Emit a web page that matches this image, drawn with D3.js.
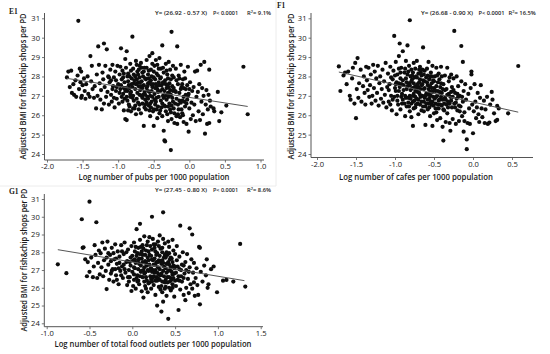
<!DOCTYPE html>
<html><head><meta charset="utf-8">
<script src="https://cdn.jsdelivr.net/npm/d3@7"></script>
<style>
html,body{margin:0;padding:0;background:#fff;}
svg{display:block;}
text{font-family:"Open Sans","Noto Sans",sans-serif;}
</style></head>
<body><svg id="chart" width="550" height="354"></svg>
<script>
// ---------------- DATA ----------------
const yTicks = [24, 25, 26, 27, 28, 29, 30, 31];
const e1XTicks = [-2.0, -1.5, -1.0, -0.5, 0.0, 0.5, 1.0];
const f1XTicks = [-2.0, -1.5, -1.0, -0.5, 0.0, 0.5];
const g1XTicks = [-1.0, -0.5, 0.0, 0.5, 1.0, 1.5];

const yTitle = "Adjusted BMI for fish&chip shops per PD";
const e1XTitle = "Log number of pubs per 1000 population";
const f1XTitle = "Log number of cafes per 1000 population";
const g1XTitle = "Log number of total food outlets per 1000 population";

const e1Fit = [26.92, -0.57];  const e1FitRange = [-1.72, 0.82];
const f1Fit = [26.68, -0.90];  const f1FitRange = [-1.72, 0.58];
const g1Fit = [27.45, -0.80];  const g1FitRange = [-0.87, 1.31];

const e1Stats = ["Y= (26.92 - 0.57 X)", "P< 0.0001", "9.1%"];
const f1Stats = ["Y= (26.68 - 0.90 X)", "P< 0.0001", "16.5%"];
const g1Stats = ["Y= (27.45 - 0.80 X)", "P< 0.0001", "8.6%"];

const e1Points = [
[-1.72,27.95],[-1.70,28.25],[-1.68,27.45],[-1.66,28.30],[-1.65,27.15],[-1.63,27.60],[-1.62,27.05],[-1.60,27.80],[-1.59,26.95],[-1.57,28.05],[-1.56,30.87],[-1.55,27.35],[-1.54,28.40],[-1.53,27.70],[-1.52,28.25],[-1.51,27.00],[-1.50,27.55],[-1.52,26.90],
[-1.48,27.90],[-1.47,27.25],[-1.46,26.85],[-1.45,27.60],[-1.43,28.00],[-1.42,27.10],[-1.40,26.95],[-1.39,29.05],[-1.38,27.75],[-1.37,28.55],[-1.36,27.35],[-1.34,26.90],[-1.33,27.50],[-1.31,26.35],[-1.30,28.10],[-1.29,27.00],[-1.28,29.55],[-1.27,28.60],[-1.26,27.65],[-1.25,26.80],[-1.24,27.30],[-1.23,26.30],[-1.22,28.20],[-1.21,27.85],[-1.20,29.70],[-1.20,26.60],
[-1.19,27.45],[-1.18,28.55],[-1.17,26.95],[-1.16,29.40],[-1.15,27.20],[-1.14,28.00],[-1.13,26.55],[-1.12,27.70],[-1.11,28.35],[-1.10,27.05],[-1.09,26.70],[-1.08,28.60],[-1.07,27.50],[-1.06,27.95],[-1.05,26.40],[-1.04,28.25],[-1.03,27.25],[-1.02,26.85],[-1.01,28.55],[-1.00,27.60],[-0.99,26.60],[-0.98,28.10],[-0.97,27.35],[-0.96,29.45],[-0.95,26.95],[-0.95,27.85],[-0.97,28.50],[-1.03,27.80],[-1.08,27.35],[-1.13,27.95],
[-0.94,28.30],[-0.93,27.10],[-0.92,26.25],[-0.91,27.70],[-0.90,28.90],[-0.90,25.80],[-0.89,27.40],[-0.88,25.75],[-0.88,29.30],[-0.87,26.75],[-0.86,28.15],[-0.85,27.55],[-0.84,26.45],[-0.83,28.65],[-0.82,27.20],[-0.81,27.90],[-0.80,30.05],[-0.80,26.90],[-0.79,28.40],[-0.78,27.65],[-0.77,26.35],[-0.76,27.35],[-0.75,28.80],[-0.75,26.05],[-0.74,27.85],[-0.73,28.25],[-0.72,26.65],[-0.71,27.50],[-0.70,28.55],[-0.70,27.05],
[-0.93,27.95],[-0.91,26.85],[-0.89,28.45],[-0.87,27.25],[-0.85,26.55],[-0.84,28.00],[-0.82,26.20],[-0.81,27.60],[-0.79,27.00],[-0.78,28.10],[-0.77,27.80],[-0.76,26.50],[-0.74,28.60],[-0.73,27.15],[-0.72,27.70],[-0.71,26.30],[-0.70,27.95],[-0.92,27.40],[-0.86,27.75],[-0.83,26.95],
[-0.69,27.30],[-0.68,28.70],[-0.68,26.10],[-0.67,27.75],[-0.66,26.60],[-0.66,28.20],[-0.65,27.05],[-0.64,25.45],[-0.64,27.55],[-0.63,28.45],[-0.62,26.80],[-0.62,27.90],[-0.61,26.30],[-0.60,27.40],[-0.60,28.85],[-0.59,26.95],[-0.58,27.65],[-0.58,28.10],[-0.57,26.50],[-0.56,27.20],[-0.56,29.05],[-0.55,25.95],[-0.54,27.80],[-0.54,28.35],[-0.53,26.70],[-0.52,27.45],[-0.52,29.20],[-0.51,26.20],[-0.50,25.45],[-0.50,27.95],[-0.49,27.10],[-0.49,28.55],[-0.48,26.55],[-0.47,27.60],[-0.47,28.85],[-0.46,26.90],[-0.46,28.15],[-0.45,27.35],[-0.45,25.85],
[-0.69,27.70],[-0.67,27.00],[-0.65,28.00],[-0.63,27.20],[-0.61,27.85],[-0.59,27.50],[-0.57,28.30],[-0.55,27.00],[-0.53,28.00],[-0.51,27.60],[-0.49,26.80],[-0.48,27.85],[-0.46,27.50],[-0.66,27.40],[-0.62,26.55],[-0.58,26.85],[-0.54,26.40],[-0.50,26.30],[-0.60,28.45],[-0.52,28.65],[-0.56,27.70],
[-0.44,28.05],[-0.44,26.45],[-0.43,27.70],[-0.42,28.95],[-0.42,26.10],[-0.41,27.25],[-0.40,28.40],[-0.40,26.75],[-0.39,27.55],[-0.38,29.60],[-0.38,25.95],[-0.37,27.00],[-0.36,28.20],[-0.36,25.20],[-0.35,26.50],[-0.35,24.70],[-0.34,27.80],[-0.34,24.65],[-0.33,26.20],[-0.33,28.65],[-0.32,27.40],[-0.31,26.05],[-0.31,28.10],[-0.30,27.15],[-0.30,25.70],[-0.29,28.75],[-0.28,26.60],[-0.28,27.65],[-0.27,26.30],[-0.27,28.35],[-0.26,27.05],[-0.26,24.20],[-0.25,30.30],[-0.25,25.80],[-0.24,27.50],[-0.23,26.70],[-0.23,28.55],[-0.22,27.95],[-0.21,26.10],[-0.20,27.25],[-0.21,25.60],
[-0.43,26.95],[-0.41,27.90],[-0.39,26.40],[-0.37,28.45],[-0.35,27.25],[-0.33,27.60],[-0.32,26.80],[-0.30,27.90],[-0.29,26.95],[-0.27,27.30],[-0.25,26.50],[-0.24,28.05],[-0.22,26.35],[-0.41,26.25],[-0.36,26.90],[-0.31,27.55],[-0.26,27.85],[-0.38,27.35],
[-0.19,28.40],[-0.18,26.85],[-0.17,29.55],[-0.17,25.55],[-0.16,27.60],[-0.15,26.30],[-0.15,28.05],[-0.14,27.15],[-0.13,25.90],[-0.12,28.60],[-0.12,26.65],[-0.11,27.45],[-0.10,26.10],[-0.09,27.85],[-0.08,25.65],[-0.08,26.95],[-0.07,28.25],[-0.06,26.45],[-0.05,27.35],[-0.04,25.55],[-0.03,26.80],[-0.02,28.50],[-0.01,25.15],[-0.01,27.10],[0.00,26.35],[0.01,27.70],[0.02,25.80],[0.03,26.65],[0.04,27.25],[0.05,26.00],
[-0.19,27.20],[-0.16,26.55],[-0.14,27.90],[-0.11,26.30],[-0.10,27.60],[-0.07,26.70],[-0.05,27.05],[-0.03,27.55],[-0.18,25.95],[-0.09,26.00],
[0.06,27.45],[0.07,26.55],[0.08,28.25],[0.09,25.70],[0.10,26.95],[0.11,28.30],[0.12,27.20],[0.13,26.20],[0.14,27.60],[0.15,25.75],[0.16,28.60],[0.17,26.70],[0.18,27.40],[0.19,26.05],[0.20,27.00],[0.21,28.75],[0.22,25.05],[0.23,26.55],[0.24,27.30],[0.25,25.55],[0.26,26.30],[0.27,27.05],[0.28,28.35],[0.28,25.60],[0.29,26.75],[0.30,26.45],[0.34,26.35],[0.35,26.20],
[0.40,27.20],[0.42,25.70],[0.45,26.15],[0.52,26.50],[0.76,28.50],[0.82,26.05],
[-0.98,27.15],[-0.96,27.55],[-0.94,26.70],[-0.92,28.15],[-0.90,27.25],[-0.88,26.95],[-0.86,26.25],[-0.84,27.40],[-0.82,28.30],[-0.80,27.45],[-0.78,26.75],[-0.76,28.00],[-0.74,26.85],[-0.72,28.10],[-0.70,26.55],[-0.68,27.50],[-0.66,26.90],[-0.64,28.25],[-0.62,27.05],[-0.60,26.65],[-0.58,27.25],[-0.56,26.25],[-0.54,27.60],[-0.52,26.95],[-0.50,28.25],[-0.48,27.40],[-0.46,26.30],[-0.44,27.20],[-0.42,27.55],[-0.40,27.95],[-0.38,26.60],[-0.36,27.65],[-0.34,26.45],[-0.32,28.30],[-0.30,26.45],[-0.28,27.10],[-0.26,26.15],[-0.24,26.90],[-0.22,27.40],[-0.20,26.60],[-0.18,27.80],[-0.16,26.05],[-0.14,26.75],[-0.12,27.35],[-0.10,26.75],[-0.08,27.40],[-0.06,27.90],[-0.04,26.60],[-0.02,27.00],[0.00,27.35],[-0.67,28.45],[-0.63,26.40],[-0.57,27.90],[-0.53,27.25],[-0.47,26.70],[-0.43,28.40],[-0.37,27.70],[-0.33,27.00],[-0.29,27.45],[-0.23,27.25],[-0.87,28.00],[-0.83,27.10],[-0.79,26.35],[-0.75,27.60],[-0.71,28.35],[-1.02,27.45],[-1.06,26.90],[-1.10,27.80],[-0.55,26.60],[-0.45,28.60]
];

const f1Points = [
[-1.72,28.52],[-1.70,27.25],[-1.66,28.05],[-1.64,28.20],[-1.62,27.60],[-1.60,28.25],[-1.58,27.00],[-1.57,26.80],[-1.55,27.90],[-1.54,28.45],[-1.52,26.60],[-1.51,28.70],[-1.50,25.85],[-1.49,27.35],[-1.48,28.95],[-1.47,26.90],[-1.46,27.65],[-1.44,28.35],[-1.43,26.70],[-1.41,27.50],[-1.40,28.00],
[-1.39,27.15],[-1.38,26.55],[-1.37,28.50],[-1.36,27.80],[-1.35,27.30],[-1.34,28.45],[-1.33,26.95],[-1.32,27.55],[-1.31,28.10],[-1.30,26.60],[-1.29,27.00],[-1.28,28.60],[-1.27,27.40],[-1.26,28.25],[-1.25,26.75],[-1.24,27.90],[-1.23,27.15],[-1.22,28.55],[-1.21,26.50],[-1.20,27.65],[-1.19,28.00],[-1.18,26.85],[-1.17,27.35],[-1.16,28.35],[-1.15,26.65],[-1.14,27.75],[-1.13,27.05],[-1.12,28.70],[-1.11,26.40],[-1.10,27.45],
[-1.09,28.15],[-1.08,26.70],[-1.07,27.60],[-1.06,28.50],[-1.05,27.00],[-1.04,26.25],[-1.03,27.85],[-1.02,28.30],[-1.01,30.09],[-1.01,26.95],[-1.00,27.40],[-0.99,28.75],[-0.98,26.05],[-0.98,27.70],[-0.97,28.10],[-0.96,26.55],[-0.95,27.25],[-0.95,29.05],[-0.94,29.70],[-0.93,27.90],[-0.93,26.30],[-0.92,28.45],[-0.91,27.10],[-0.90,29.30],[-0.90,26.80],[-0.89,27.55],[-0.88,28.20],[-0.87,25.95],[-0.87,27.00],[-0.86,28.80],[-0.85,27.35],[-0.85,26.45],
[-1.08,27.30],[-1.05,27.95],[-1.03,26.80],[-1.00,28.05],[-0.97,27.00],[-0.95,28.40],[-0.92,26.95],[-0.90,27.80],[-0.88,26.60],[-0.86,27.90],[-1.06,26.55],[-0.99,27.60],[-0.94,27.45],
[-0.84,28.10],[-0.84,29.60],[-0.83,26.90],[-0.82,27.65],[-0.82,28.55],[-0.81,30.90],[-0.81,26.20],[-0.80,27.30],[-0.79,28.35],[-0.79,25.90],[-0.78,27.85],[-0.77,25.45],[-0.77,26.70],[-0.76,28.70],[-0.76,27.10],[-0.75,27.95],[-0.74,26.40],[-0.74,28.40],[-0.73,27.50],[-0.72,26.85],[-0.72,28.80],[-0.71,27.20],[-0.70,28.15],[-0.70,26.05],[-0.69,27.70],[-0.68,26.55],[-0.68,28.50],[-0.67,27.35],[-0.66,26.25],[-0.66,28.05],[-0.65,27.00],[-0.64,29.50],[-0.64,27.80],[-0.63,26.70],[-0.62,28.30],[-0.62,27.40],[-0.61,25.50],[-0.61,26.45],[-0.60,27.95],[-0.60,27.10],
[-0.84,27.50],[-0.83,28.25],[-0.81,27.00],[-0.80,28.00],[-0.78,27.40],[-0.77,28.20],[-0.75,26.75],[-0.73,28.00],[-0.71,26.60],[-0.70,27.45],[-0.69,28.35],[-0.67,26.95],[-0.65,27.60],[-0.63,28.10],[-0.62,26.90],[-0.79,26.60],[-0.74,27.25],[-0.68,27.05],[-0.82,26.45],[-0.76,27.65],
[-0.59,28.40],[-0.58,26.30],[-0.58,27.55],[-0.57,28.75],[-0.56,26.85],[-0.56,27.85],[-0.55,25.95],[-0.55,27.20],[-0.54,28.20],[-0.53,26.55],[-0.53,27.65],[-0.52,25.45],[-0.52,28.55],[-0.51,26.95],[-0.50,27.40],[-0.50,26.10],[-0.49,28.00],[-0.48,26.60],[-0.48,27.25],[-0.47,28.45],[-0.46,25.75],[-0.46,27.00],[-0.45,27.70],[-0.44,26.35],[-0.44,28.15],[-0.43,26.80],[-0.42,27.45],[-0.42,25.85],[-0.41,28.50],[-0.40,26.50],[-0.40,27.15],[-0.39,25.40],[-0.38,24.69],[-0.38,27.60],[-0.37,26.25],[-0.36,28.05],[-0.36,26.90],[-0.35,25.65],
[-0.59,27.10],[-0.57,26.60],[-0.54,27.00],[-0.51,27.80],[-0.49,26.85],[-0.47,27.50],[-0.45,26.55],[-0.43,27.85],[-0.41,26.95],[-0.39,27.35],[-0.37,26.60],[-0.57,27.35],[-0.52,26.70],[-0.46,28.05],[-0.40,28.00],[-0.55,28.00],
[-0.34,27.35],[-0.33,26.10],[-0.33,28.45],[-0.32,26.70],[-0.31,27.75],[-0.30,25.60],[-0.29,25.20],[-0.29,26.95],[-0.28,28.10],[-0.27,26.40],[-0.27,27.45],[-0.26,25.80],[-0.25,27.90],[-0.24,30.35],[-0.24,26.60],[-0.23,27.15],[-0.22,25.55],[-0.21,26.85],[-0.21,28.00],[-0.20,26.25],[-0.19,27.50],[-0.18,25.70],[-0.17,27.00],[-0.16,26.45],[-0.15,29.57],[-0.15,27.75],[-0.14,25.95],[-0.13,28.75],[-0.13,26.70],[-0.12,25.15],[-0.12,27.25],[-0.11,26.15],[-0.10,27.60],
[-0.34,26.55],[-0.31,27.10],[-0.28,26.75],[-0.25,27.30],[-0.22,26.65],[-0.19,26.95],[-0.17,26.20],[-0.11,25.70],[-0.30,27.95],
[-0.09,26.80],[-0.08,24.75],[-0.08,24.25],[-0.07,25.60],[-0.06,27.10],[-0.05,26.35],[-0.04,25.55],[-0.03,27.40],[-0.02,28.25],[-0.01,26.55],[0.00,25.07],[0.01,26.20],[0.02,27.60],[0.03,26.70],[0.04,25.85],[0.05,26.40],[0.06,27.15],[0.08,25.65],[0.09,26.90],[0.10,27.55],[0.11,26.35],[0.12,25.90],[0.14,26.75],[0.15,25.60],[0.16,26.30],[0.18,26.95],[0.19,25.55],[0.21,25.62],[0.22,26.55],[0.24,27.20],[0.25,26.80],[0.27,26.10],[0.29,25.70],[0.31,26.48],[0.31,25.76],[0.33,26.35],[0.45,26.10],[0.58,28.54],[-0.02,28.10],[0.07,26.05],
[-0.99,27.25],[-0.97,26.75],[-0.95,27.65],[-0.93,28.20],[-0.91,26.60],[-0.89,27.30],[-0.87,28.40],[-0.85,27.70],[-0.83,26.65],[-0.81,27.55],[-0.80,26.85],[-0.78,28.05],[-0.77,27.00],[-0.75,27.45],[-0.74,26.95],[-0.73,26.55],[-0.72,27.95],[-0.71,27.60],[-0.70,26.80],[-0.69,27.15],[-0.68,27.85],[-0.67,28.20],[-0.66,26.70],[-0.65,28.35],[-0.64,26.45],[-0.63,27.35],[-0.62,27.75],[-0.61,27.00],[-0.60,26.60],[-0.59,27.70],[-0.58,28.05],[-0.57,27.05],[-0.56,26.40],[-0.55,27.50],[-0.54,26.70],[-0.53,28.00],[-0.52,27.20],[-0.51,26.50],[-0.50,27.75],[-0.49,27.30],[-0.48,26.35],[-0.47,26.95],[-0.45,27.25],[-0.44,26.75],[-0.43,27.20],[-0.42,26.55],[-0.41,27.65],[-0.39,26.80],[-0.38,26.30],[-0.36,27.30],[-0.35,26.80],[-0.33,27.05],[-0.32,26.40],[-0.30,26.60],[-0.28,27.20],[-0.26,26.95],[-0.23,26.40],[-0.20,27.10],[-0.18,26.50],[-0.14,26.95],[-0.79,27.75],[-0.76,26.35],[-0.72,27.35],[-0.66,27.55],[-0.63,26.20],[-0.58,26.80],[-0.53,27.40],[-0.47,26.15],[-0.86,26.90],[-0.92,27.60]
];

const g1Points = [
[-0.87,27.32],[-0.77,26.82],[-0.59,29.86],[-0.58,28.25],[-0.57,28.28],[-0.55,27.60],[-0.53,26.65],[-0.52,27.45],[-0.50,30.85],[-0.50,26.90],[-0.48,27.70],[-0.46,26.60],[-0.45,27.20],[-0.44,28.40],[-0.43,27.85],[-0.42,29.69],[-0.41,26.55],[-0.40,27.40],[-0.39,28.10],[-0.38,26.75],[-0.37,27.95],[-0.36,27.15],[-0.35,28.55],[-0.34,26.65],[-0.33,27.55],[-0.32,28.20],[-0.31,26.95],[-0.30,25.93],[-0.30,27.70],
[-0.29,28.60],[-0.28,27.30],[-0.27,26.45],[-0.26,27.85],[-0.25,26.80],[-0.24,28.25],[-0.23,27.05],[-0.22,26.35],[-0.21,27.60],[-0.20,28.45],[-0.19,26.70],[-0.18,27.35],[-0.17,28.05],[-0.16,26.20],[-0.15,27.75],[-0.14,26.95],[-0.13,28.40],[-0.12,27.20],[-0.11,26.55],[-0.10,27.90],[-0.09,28.55],[-0.08,26.85],[-0.07,27.45],[-0.06,26.15],[-0.05,28.15],[-0.04,27.00],[-0.03,26.60],[-0.02,27.70],[-0.01,25.82],[-0.01,28.35],[0.00,26.90],
[-0.28,27.95],[-0.25,27.50],[-0.22,27.95],[-0.19,27.65],[-0.16,27.10],[-0.13,26.70],[-0.10,27.30],[-0.07,28.00],[-0.04,26.35],[-0.02,27.25],[-0.24,26.95],[-0.18,26.45],[-0.12,28.05],[-0.06,27.50],
[0.01,27.55],[0.02,26.45],[0.02,28.55],[0.03,27.10],[0.04,25.95],[0.05,27.80],[0.05,29.30],[0.06,26.70],[0.07,28.25],[0.08,27.35],[0.08,26.20],[0.09,29.60],[0.09,28.70],[0.10,26.90],[0.11,27.65],[0.11,25.80],[0.12,28.40],[0.13,25.45],[0.13,27.00],[0.14,26.35],[0.14,28.90],[0.15,27.50],[0.16,26.60],[0.16,28.10],[0.17,27.25],[0.18,25.75],[0.18,28.60],[0.19,26.95],[0.20,27.85],[0.20,26.30],[0.21,28.35],[0.22,27.10],[0.22,25.95],[0.23,30.00],[0.23,27.60],[0.24,26.55],[0.24,28.75],[0.25,27.30],
[0.01,26.10],[0.03,28.05],[0.04,27.40],[0.06,27.95],[0.07,26.40],[0.10,27.25],[0.12,26.60],[0.12,27.85],[0.15,26.10],[0.17,28.40],[0.19,27.55],[0.21,26.65],[0.23,28.15],[0.25,26.15],[0.25,28.45],[0.02,27.15],[0.08,27.65],[0.14,27.15],[0.18,27.00],[0.22,27.80],[0.10,28.30],[0.16,25.95],[0.06,26.35],[0.20,28.85],[0.24,27.00],
[0.26,26.85],[0.27,28.05],[0.27,25.60],[0.28,27.45],[0.29,25.00],[0.29,26.40],[0.30,28.60],[0.30,27.15],[0.31,26.05],[0.32,27.80],[0.32,28.95],[0.33,26.70],[0.34,24.66],[0.34,27.35],[0.35,25.75],[0.35,28.25],[0.36,30.25],[0.36,25.22],[0.36,26.95],[0.37,27.70],[0.38,26.30],[0.38,28.50],[0.39,27.10],[0.40,25.55],[0.40,28.00],[0.41,26.60],[0.42,24.25],[0.42,27.45],[0.43,26.00],[0.43,28.30],[0.44,27.00],[0.45,25.85],[0.45,26.55],[0.46,27.65],[0.47,28.70],[0.47,26.20],[0.48,27.25],[0.49,25.50],[0.49,26.80],[0.50,27.90],
[0.26,27.65],[0.28,26.60],[0.30,26.55],[0.31,27.55],[0.33,28.20],[0.34,26.10],[0.37,27.20],[0.39,26.45],[0.41,27.85],[0.43,27.30],[0.44,26.35],[0.46,26.90],[0.48,28.10],[0.50,26.40],[0.29,27.95],[0.35,27.55],[0.40,26.85],[0.45,27.70],[0.32,26.45],[0.38,25.95],[0.27,27.00],[0.47,27.45],[0.42,28.60],[0.36,28.75],[0.49,27.10],
[0.51,26.10],[0.52,28.35],[0.53,27.20],[0.54,24.75],[0.54,26.65],[0.55,27.75],[0.56,29.50],[0.56,25.90],[0.57,27.00],[0.58,26.35],[0.59,28.00],[0.60,25.60],[0.61,26.80],[0.62,25.30],[0.62,27.45],[0.63,26.00],[0.64,27.90],[0.65,26.50],[0.66,25.70],[0.67,29.35],[0.67,27.15],[0.68,26.20],[0.69,27.60],[0.70,29.00],[0.70,25.95],[0.71,26.85],[0.72,27.40],[0.73,25.55],[0.74,26.55],[0.75,27.10],[0.76,26.15],[0.77,25.60],[0.78,28.30],[0.79,28.25],[0.79,25.07],[0.80,26.90],
[0.52,27.55],[0.55,26.40],[0.58,27.30],[0.60,26.55],[0.63,27.00],[0.66,26.90],[0.72,26.30],
[0.82,26.35],[0.84,27.25],[0.86,26.70],[0.87,27.60],[0.88,26.00],[0.89,26.20],[0.92,27.05],[0.95,27.20],[0.99,25.75],[1.06,26.40],[1.10,26.44],[1.18,26.35],[1.26,28.47],[1.32,26.07],
[-0.09,27.05],[-0.05,26.60],[-0.03,27.45],[0.00,27.80],[0.02,26.75],[0.04,28.30],[0.05,26.55],[0.07,27.05],[0.09,26.65],[0.09,27.90],[0.11,26.95],[0.12,27.45],[0.13,28.20],[0.14,26.80],[0.15,27.85],[0.16,27.40],[0.17,26.40],[0.18,27.70],[0.19,26.25],[0.20,27.30],[0.21,27.05],[0.22,26.50],[0.23,26.90],[0.24,27.55],[0.25,26.65],[0.26,28.25],[0.27,26.40],[0.28,27.85],[0.29,26.85],[0.30,27.45],[0.31,28.35],[0.32,27.05],[0.33,27.50],[0.34,26.80],[0.35,26.35],[0.36,27.40],[0.37,26.65],[0.38,27.85],[0.39,26.05],[0.40,27.35],[0.41,26.30],[0.42,26.95],[0.43,26.60],[0.44,27.60],[0.45,27.15],[0.46,26.45],[0.47,26.75],[0.48,26.55],[0.50,27.20],[0.51,26.85],[0.53,26.45],[0.55,27.05],[0.57,26.65],[0.60,27.25],[0.03,27.60],[0.07,27.55],[0.11,28.05],[0.15,26.85],[0.19,28.05],[0.23,26.35],[0.27,27.30],[0.31,26.75],[0.35,28.00],[0.39,27.70],[0.43,27.95],[0.47,26.00],[0.33,25.90],[0.27,28.45],[-0.15,27.40],[-0.20,27.05]
];

// ---------------- DRAW ----------------
const svg = d3.select("#chart");

// faint panel separators
svg.append("line").attr("x1", 276).attr("x2", 276).attr("y1", 0).attr("y2", 186)
  .attr("stroke", "#ececec").attr("stroke-width", 1);
svg.append("line").attr("x1", 0).attr("x2", 276).attr("y1", 186).attr("y2", 186)
  .attr("stroke", "#ececec").attr("stroke-width", 1);

function drawPanel(cfg) {
  const g = svg.append("g");
  const x = d3.scaleLinear().domain(cfg.xDomain).range(cfg.xRange);
  const y = d3.scaleLinear().domain([24, 31]).range(cfg.yRange);

  // axes
  const ya = d3.axisLeft(y).tickValues(yTicks).tickSize(2.5).tickPadding(2).tickFormat(d => String(d));
  const yg = g.append("g").attr("transform", `translate(${cfg.axisX},0)`).call(ya);
  const xa = d3.axisBottom(x).tickValues(cfg.xTicks).tickSize(2.5).tickPadding(1.5).tickFormat(d => d.toFixed(1));
  const xg = g.append("g").attr("transform", `translate(0,${cfg.axisY})`).call(xa);
  [yg, xg].forEach(a => {
    a.select(".domain").remove();
    a.selectAll("line").attr("stroke", "#555").attr("stroke-width", 0.8);
    a.selectAll("text").attr("fill", "#1a1a1a").style("font-size", "7.6px")
      .style("font-family", "'Open Sans','Noto Sans',sans-serif");
  });
  g.append("line").attr("x1", cfg.axisX).attr("x2", cfg.axisX)
    .attr("y1", cfg.axisTop).attr("y2", cfg.axisY).attr("stroke", "#555").attr("stroke-width", 1);
  g.append("line").attr("x1", cfg.axisX).attr("x2", cfg.axisRight)
    .attr("y1", cfg.axisY).attr("y2", cfg.axisY).attr("stroke", "#555").attr("stroke-width", 1);

  // points
  g.append("g").selectAll("circle").data(cfg.points).join("circle")
    .attr("cx", d => x(d[0])).attr("cy", d => y(d[1])).attr("r", 2.1).attr("fill", "#0d0d0d");

  // regression line
  g.append("line")
    .attr("x1", x(cfg.fitRange[0])).attr("y1", y(cfg.fit[0] + cfg.fit[1] * cfg.fitRange[0]))
    .attr("x2", x(cfg.fitRange[1])).attr("y2", y(cfg.fit[0] + cfg.fit[1] * cfg.fitRange[1]))
    .attr("stroke", "#555").attr("stroke-width", 1);

  // y title
  g.append("text").attr("transform", `translate(${cfg.yTitleX},${cfg.yTitleY}) rotate(-90)`)
    .attr("text-anchor", "middle").attr("dominant-baseline", "central")
    .attr("textLength", cfg.yTitleLen).attr("lengthAdjust", "spacingAndGlyphs")
    .style("font-size", "8px").style("font-weight", 600).attr("fill", "#1a1a1a").text(yTitle);
  // x title
  g.append("text").attr("x", cfg.xTitleX).attr("y", cfg.xTitleY)
    .attr("text-anchor", "middle").attr("dominant-baseline", "central")
    .attr("textLength", cfg.xTitleLen).attr("lengthAdjust", "spacingAndGlyphs")
    .style("font-size", "8.6px").style("font-weight", 600).attr("fill", "#1a1a1a").text(cfg.xTitle);

  // stats annotation
  const st = g.append("g").style("font-size", "5.8px").style("font-weight", 600).attr("fill", "#1a1a1a");
  st.append("text").attr("x", cfg.statX[0]).attr("y", cfg.statY).attr("dominant-baseline", "central")
    .attr("textLength", cfg.statLen[0]).attr("lengthAdjust", "spacingAndGlyphs").text(cfg.stats[0]);
  st.append("text").attr("x", cfg.statX[1]).attr("y", cfg.statY).attr("dominant-baseline", "central")
    .attr("textLength", cfg.statLen[1]).attr("lengthAdjust", "spacingAndGlyphs").text(cfg.stats[1]);
  const r = st.append("text").attr("x", cfg.statX[2]).attr("y", cfg.statY).attr("dominant-baseline", "central");
  r.append("tspan").text("R");
  r.append("tspan").attr("dy", -2).style("font-size", "4px").text("2");
  r.append("tspan").attr("dy", 2).text("= " + cfg.stats[2]);

  // panel label
  g.append("text").attr("x", cfg.labelX).attr("y", cfg.labelY).attr("dominant-baseline", "central")
    .style("font-family", "'Liberation Serif',serif").style("font-size", "7.5px").style("font-weight", 700)
    .attr("fill", "#1a1a1a").text(cfg.label);
}

drawPanel({
  label: "E1", labelX: 9, labelY: 11,
  points: e1Points, fit: e1Fit, fitRange: e1FitRange, stats: e1Stats, xTicks: e1XTicks,
  xDomain: [-2, 1], xRange: [47, 260.5], yRange: [154, 18.3],
  axisX: 44.5, axisY: 160, axisTop: 13, axisRight: 264,
  yTitleX: 22, yTitleY: 86.5, yTitleLen: 146,
  xTitle: e1XTitle, xTitleX: 154, xTitleY: 177, xTitleLen: 151,
  statX: [155, 213, 247], statY: 13, statLen: [52, 25]
});
drawPanel({
  label: "F1", labelX: 277, labelY: 5,
  points: f1Points, fit: f1Fit, fitRange: f1FitRange, stats: f1Stats, xTicks: f1XTicks,
  xDomain: [-2, 0.5], xRange: [317, 512], yRange: [154, 18.3],
  axisX: 311, axisY: 157.5, axisTop: 13, axisRight: 533,
  yTitleX: 290, yTitleY: 86.5, yTitleLen: 146,
  xTitle: f1XTitle, xTitleX: 416, xTitleY: 177, xTitleLen: 154,
  statX: [421, 478.5, 508.5], statY: 12.7, statLen: [52, 26]
});
drawPanel({
  label: "G1", labelX: 9, labelY: 191,
  points: g1Points, fit: g1Fit, fitRange: g1FitRange, stats: g1Stats, xTicks: g1XTicks,
  xDomain: [-1, 1.5], xRange: [46.7, 260.7], yRange: [323.3, 199],
  axisX: 44.3, axisY: 326.7, axisTop: 194, axisRight: 263,
  yTitleX: 23, yTitleY: 260, yTitleLen: 143,
  xTitle: g1XTitle, xTitleX: 153, xTitleY: 343.5, xTitleLen: 197,
  statX: [155, 213, 247], statY: 190, statLen: [52, 25]
});
</script>
</body></html>
